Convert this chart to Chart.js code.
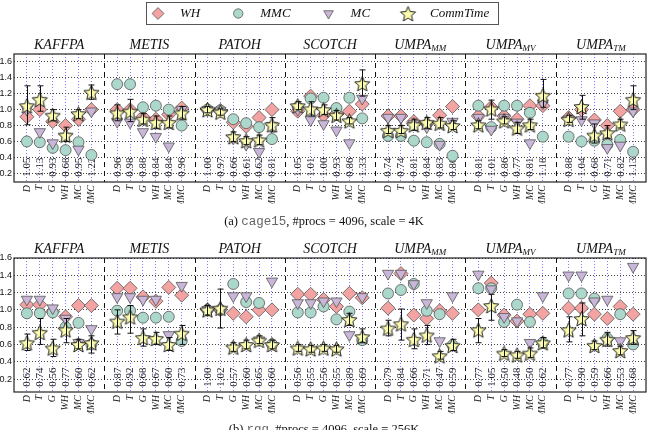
<!DOCTYPE html>
<html>
<head>
<meta charset="utf-8">
<script src="https://cdn.jsdelivr.net/npm/chart.js@4.4.1/dist/chart.umd.min.js"></script>
<style>
  body { margin: 0; background: #fff; width: 654px; height: 430px; overflow: hidden; position: relative; }
  .panel { position: absolute; left: 0; width: 654px; }
  #wrapA { top: 0; height: 230px; }
  #wrapB { top: 230px; height: 200px; }
  .caption { position: absolute; left: 0; width: 648px; text-align: center; font: 12.5px 'Liberation Serif', serif; color: #111; line-height: 16px; }
  .caption span { font-family: 'Liberation Mono', monospace; color: #666; }
</style>
</head>
<body>
<div class="panel" id="wrapA"><canvas id="chartA" width="654" height="230"></canvas></div>
<div class="panel" id="wrapB"><canvas id="chartB" width="654" height="200"></canvas></div>
<div class="caption" style="top:213px">(a) <span>cage15</span>, #procs = 4096, scale = 4K</div>
<div class="caption" style="top:421px">(b) <span>rgg</span>, #procs = 4096, scale = 256K</div>
<script>
const metrics = ['D', 'T', 'G', 'WH', 'MC', 'MMC'];
const partitioners = ['KAFFPA', 'METIS', 'PATOH', 'SCOTCH', 'UMPA_MM', 'UMPA_MV', 'UMPA_TM'];
const yTicks = [0.2, 0.4, 0.6, 0.8, 1.0, 1.2, 1.4, 1.6];

// (a) cage15 -- 6 values per partitioner, in partitioner order
const whA  = [0.91, 1.00, 0.85, 0.80, 0.88, 1.00,  1.00, 1.00, 0.91, 0.88, 0.94, 1.02,  1.00, 0.99, 0.84, 0.79, 0.90, 1.00,
              0.98, 1.17, 0.93, 0.95, 0.98, 1.07,  0.92, 0.92, 0.85, 0.82, 0.93, 1.04,  0.92, 1.03, 0.92, 0.88, 1.05, 1.05,
              0.90, 1.00, 0.87, 0.80, 0.98, 1.00];
const mmcA = [0.60, 0.59, 0.52, 0.49, 0.59, 0.43,  1.32, 1.32, 1.03, 1.05, 1.00, 0.80,  1.00, 0.99, 0.88, 0.83, 0.78, 0.63,
              1.03, 1.14, 1.15, 1.02, 1.15, 0.89,  0.67, 0.67, 0.61, 0.59, 0.57, 0.42,  1.05, 0.78, 1.05, 1.05, 0.96, 0.66,
              0.66, 0.60, 0.61, 0.56, 0.62, 0.47];
const mcA  = [1.00, 0.72, 0.58, 0.66, 0.50, 0.98,  0.85, 0.84, 0.72, 0.66, 0.54, 1.00,  1.00, 0.99, 0.64, 0.56, 0.47, 0.80,
              1.00, 0.87, 0.82, 0.74, 0.58, 1.14,  0.90, 0.90, 0.82, 0.78, 0.56, 0.85,  0.90, 0.75, 0.90, 0.84, 0.58, 1.08,
              0.88, 0.87, 0.83, 0.52, 0.55, 0.98];
const commA = [1.05, 1.13, 0.93, 0.68, 0.95, 1.22,  0.96, 0.98, 0.88, 0.84, 0.84, 0.96,  1.00, 0.97, 0.66, 0.61, 0.62, 0.81,
               1.05, 1.01, 1.00, 0.93, 0.86, 1.33,  0.74, 0.74, 0.81, 0.84, 0.83, 0.80,  0.81, 1.01, 0.86, 0.77, 0.81, 1.18,
               0.88, 1.04, 0.68, 0.71, 0.82, 1.13];
const commLoA = [0.81, 0.98, 0.86, 0.60, 0.89, 1.13,  0.86, 0.85, 0.82, 0.76, 0.77, 0.88,  0.96, 0.93, 0.60, 0.56, 0.56, 0.72,
                 1.00, 0.92, 0.94, 0.87, 0.82, 1.17,  0.70, 0.70, 0.74, 0.76, 0.77, 0.75,  0.76, 0.88, 0.82, 0.70, 0.75, 1.03,
                 0.84, 0.88, 0.58, 0.64, 0.77, 1.00];
const commHiA = [1.30, 1.30, 1.00, 0.78, 1.00, 1.31,  1.06, 1.13, 0.95, 0.92, 0.92, 1.04,  1.04, 1.01, 0.72, 0.66, 0.68, 0.90,
                 1.10, 1.10, 1.06, 0.99, 0.90, 1.50,  0.80, 0.80, 0.88, 0.90, 0.90, 0.86,  0.86, 1.12, 0.91, 0.84, 0.88, 1.38,
                 0.93, 1.18, 0.82, 0.80, 0.88, 1.30];

// (b) rgg
const whB  = [1.06, 1.06, 0.98, 0.92, 1.05, 1.05,  1.25, 1.25, 1.15, 1.10, 1.26, 1.17,  1.00, 1.00, 0.96, 0.92, 1.00, 1.00,
              1.18, 1.18, 1.12, 1.04, 1.19, 1.14,  1.02, 1.42, 0.94, 0.90, 0.99, 0.96,  1.00, 1.31, 0.94, 0.87, 0.95, 0.96,
              1.02, 1.02, 0.95, 0.90, 1.04, 0.95];
const mmcB = [0.96, 0.96, 0.97, 0.80, 0.85, 0.60,  0.99, 0.99, 0.91, 0.91, 0.92, 0.64,  1.00, 1.00, 1.30, 1.09, 1.08, 0.60,
              0.97, 0.97, 1.04, 0.89, 0.98, 0.65,  1.19, 1.23, 1.30, 0.99, 0.95, 0.59,  1.25, 1.25, 0.86, 1.06, 0.86, 0.62,
              1.19, 1.19, 1.13, 0.67, 0.95, 0.60];
const mcB  = [1.12, 1.12, 1.02, 0.90, 0.62, 0.78,  1.15, 1.15, 1.12, 1.12, 0.71, 1.28,  1.00, 1.00, 1.16, 1.16, 0.65, 1.33,
              1.08, 1.08, 1.10, 1.10, 0.71, 1.15,  1.42, 1.42, 1.30, 1.08, 0.64, 1.16,  1.41, 1.24, 0.92, 0.87, 0.62, 1.16,
              1.40, 1.40, 1.10, 1.12, 0.64, 1.50];
const commB = [0.62, 0.74, 0.56, 0.77, 0.60, 0.62,  0.87, 0.92, 0.68, 0.67, 0.60, 0.73,  1.00, 1.02, 0.57, 0.60, 0.65, 0.60,
               0.56, 0.55, 0.56, 0.55, 0.89, 0.69,  0.79, 0.84, 0.66, 0.71, 0.47, 0.59,  0.77, 1.05, 0.50, 0.48, 0.50, 0.62,
               0.77, 0.90, 0.59, 0.66, 0.53, 0.68];
const commLoB = [0.53, 0.60, 0.46, 0.62, 0.55, 0.50,  0.72, 0.73, 0.58, 0.60, 0.53, 0.60,  0.94, 0.79, 0.52, 0.55, 0.61, 0.55,
                 0.52, 0.51, 0.52, 0.51, 0.82, 0.62,  0.70, 0.65, 0.55, 0.60, 0.43, 0.53,  0.62, 0.88, 0.46, 0.44, 0.45, 0.56,
                 0.63, 0.70, 0.54, 0.58, 0.48, 0.60];
const commHiB = [0.72, 0.90, 0.66, 0.90, 0.66, 0.70,  1.00, 1.05, 0.78, 0.74, 0.68, 0.82,  1.05, 1.24, 0.62, 0.65, 0.70, 0.65,
                 0.60, 0.59, 0.60, 0.59, 0.96, 0.78,  0.88, 1.01, 0.78, 0.82, 0.52, 0.66,  0.90, 1.18, 0.54, 0.52, 0.56, 0.68,
                 0.92, 1.08, 0.64, 0.74, 0.58, 0.76];

// each partitioner takes 7 slots: 6 metric columns and a gap
const colX = k => Math.floor(k / 6) * 7 + (k % 6) + 1;
const pts = vals => vals.map((v, k) => ({ x: colX(k), y: v }));

function starImage(r) {
  const c = document.createElement('canvas');
  const s = Math.ceil(r * 2 + 3);
  c.width = c.height = s;
  const g = c.getContext('2d');
  g.beginPath();
  for (let k = 0; k < 10; k++) {
    const rr = k % 2 ? r * 0.45 : r;
    const a = -Math.PI / 2 + k * Math.PI / 5;
    g.lineTo(s / 2 + rr * Math.cos(a), s / 2 + 1 + rr * Math.sin(a));
  }
  g.closePath();
  g.fillStyle = '#fcfcae';
  g.fill();
  g.lineWidth = 1;
  g.strokeStyle = '#222';
  g.stroke();
  return c;
}
const star = starImage(8);

const decor = {
  id: 'decor',
  beforeDatasetsDraw(chart, args, o) {
    const { ctx, chartArea: a, scales: { x } } = chart;
    ctx.save();
    ctx.strokeStyle = '#111';
    ctx.lineWidth = 1;
    ctx.setLineDash([5, 4]);
    for (let g = 1; g < partitioners.length; g++) {
      const px = Math.round(x.getPixelForValue(g * 7)) + 0.5;
      ctx.beginPath(); ctx.moveTo(px, a.top); ctx.lineTo(px, a.bottom); ctx.stroke();
    }
    ctx.setLineDash([]);
    // CommTime means printed along the bottom of each column
    ctx.font = '11px "Liberation Serif"';
    ctx.fillStyle = '#222';
    ctx.textAlign = 'center';
    ctx.textBaseline = 'middle';
    o.comm.forEach((v, k) => {
      ctx.save();
      ctx.translate(x.getPixelForValue(colX(k)) + 0.5, a.bottom - 15);
      ctx.rotate(-Math.PI / 2);
      ctx.fillText(v.toFixed(2), 0, 0);
      ctx.restore();
    });
    ctx.restore();
  },
  afterDatasetsDraw(chart, args, o) {
    const { ctx, chartArea: a, scales: { x, y } } = chart;
    ctx.save();
    ctx.strokeStyle = '#111';
    ctx.lineWidth = 1;
    o.lo.forEach((lo, k) => {
      const px = Math.round(x.getPixelForValue(colX(k))) + 0.5;
      const y0 = y.getPixelForValue(lo), y1 = y.getPixelForValue(o.hi[k]);
      ctx.beginPath();
      ctx.moveTo(px, y0); ctx.lineTo(px, y1);
      ctx.moveTo(px - 3, y0); ctx.lineTo(px + 3, y0);
      ctx.moveTo(px - 3, y1); ctx.lineTo(px + 3, y1);
      ctx.stroke();
    });
    ctx.lineWidth = 1.2;
    ctx.strokeStyle = '#222';
    ctx.strokeRect(a.left, a.top, a.width, a.height);
    ctx.restore();
  },
  afterDraw(chart, args, o) {
    const { ctx, chartArea: a, scales: { x } } = chart;
    ctx.save();
    ctx.fillStyle = '#111';
    ctx.textBaseline = 'alphabetic';
    ctx.textAlign = 'left';
    partitioners.forEach((name, g) => {
      const [main, sub] = name.split('_');
      ctx.font = 'italic 14px "Liberation Serif"';
      const wm = ctx.measureText(main).width;
      ctx.font = 'italic 9px "Liberation Serif"';
      const ws = sub ? ctx.measureText(sub).width : 0;
      const left = x.getPixelForValue(g * 7 + 3.5) - (wm + ws) / 2;
      ctx.font = 'italic 14px "Liberation Serif"';
      ctx.fillText(main, left, a.top - 5);
      if (sub) {
        ctx.font = 'italic 9px "Liberation Serif"';
        ctx.fillText(sub, left + wm, a.top - 3);
      }
    });
    if (o.legend) {
      const items = chart.data.datasets;
      ctx.font = 'italic 13px "Liberation Serif"';
      const gapIn = 22, gapOut = 38;
      const widths = items.map(ds => ctx.measureText(ds.label).width);
      const total = 12 + widths.reduce((s, w) => s + w, 0) + items.length * gapIn + (items.length - 1) * gapOut + 9;
      const left = Math.round(322 - total / 2);
      ctx.strokeStyle = '#555';
      ctx.lineWidth = 1;
      ctx.strokeRect(left + 0.5, 2.5, Math.round(total), 22);
      let cx = left + 12;
      items.forEach((ds, i) => {
        ctx.fillStyle = ds.pointBackgroundColor || '#fff';
        ctx.strokeStyle = ds.pointBorderColor || '#222';
        ctx.lineWidth = 0.8;
        Chart.helpers.drawPoint(ctx, {
          pointStyle: ds.pointStyle, radius: ds.pointRadius * 0.85,
          rotation: ds.pointRotation || 0, borderWidth: ds.pointBorderWidth || 1
        }, cx, 13.5);
        ctx.fillStyle = '#111';
        ctx.textAlign = 'left';
        ctx.textBaseline = 'middle';
        ctx.fillText(ds.label, cx + gapIn, 14);
        cx += gapIn + widths[i] + gapOut;
      });
    }
    ctx.restore();
  }
};

function makeChart(id, d, pad, yMin, yMax, withLegend) {
  return new Chart(document.getElementById(id), {
    type: 'scatter',
    data: {
      datasets: [
        { label: 'WH', data: pts(d.wh), order: 4, pointStyle: 'rectRot', pointRadius: 7,
          pointBackgroundColor: '#f4a3a3', pointBorderColor: '#555', pointBorderWidth: 0.8 },
        { label: 'MMC', data: pts(d.mmc), order: 3, pointStyle: 'circle', pointRadius: 5.5,
          pointBackgroundColor: '#acd8cc', pointBorderColor: '#555', pointBorderWidth: 0.8 },
        { label: 'MC', data: pts(d.mc), order: 2, pointStyle: 'triangle', pointRotation: 180, pointRadius: 6.5,
          pointBackgroundColor: '#c9b6d8', pointBorderColor: '#555', pointBorderWidth: 0.8 },
        { label: 'CommTime', data: pts(d.comm), order: 1, pointStyle: star, pointRadius: 8,
          pointBackgroundColor: '#fcfcae', pointBorderColor: '#222', pointBorderWidth: 1 }
      ]
    },
    options: {
      responsive: false,
      animation: false,
      events: [],
      layout: { autoPadding: false, padding: pad },
      scales: {
        x: {
          type: 'linear', min: 0, max: 49,
          afterBuildTicks: s => { s.ticks = d.comm.map((v, k) => ({ value: colX(k) })); },
          afterFit: s => { s.height = 22; },
          grid: { color: 'rgba(80,80,235,0.75)', lineWidth: 1, drawTicks: false },
          border: { display: false, dash: [1, 2] },
          ticks: {
            autoSkip: false, minRotation: 90, maxRotation: 90, padding: 3, color: '#222',
            font: { family: 'Liberation Serif', style: 'italic', size: 10 },
            callback: v => metrics[(v % 7) - 1]
          }
        },
        y: {
          min: yMin, max: yMax,
          afterBuildTicks: s => { s.ticks = yTicks.map(v => ({ value: v })); },
          afterFit: s => { s.width = 14; },
          grid: { color: '#444', lineWidth: 1, drawTicks: false },
          border: { display: false, dash: [1, 2] },
          ticks: { padding: 2, color: '#111', font: { family: 'Liberation Sans', size: 9 }, callback: v => v.toFixed(1) }
        }
      },
      plugins: {
        legend: { display: false },
        tooltip: { enabled: false },
        decor: { comm: d.comm, lo: d.lo, hi: d.hi, legend: withLegend }
      }
    },
    plugins: [decor]
  });
}

makeChart('chartA', { wh: whA, mmc: mmcA, mc: mcA, comm: commA, lo: commLoA, hi: commHiA },
  { top: 54, right: 8, bottom: 26, left: 0 }, 0.09, 1.7, true);
makeChart('chartB', { wh: whB, mmc: mmcB, mc: mcB, comm: commB, lo: commLoB, hi: commHiB },
  { top: 28, right: 8, bottom: 16, left: 0 }, 0.05, 1.6, false);
</script>
</body>
</html>
